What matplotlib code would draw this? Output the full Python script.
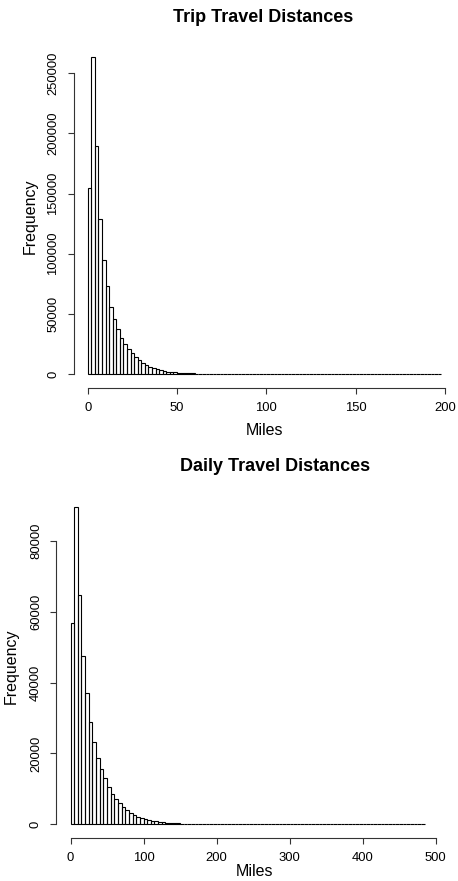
import numpy as np
import matplotlib
matplotlib.use("Agg")
import matplotlib.pyplot as plt

plt.rcParams['font.family'] = ['Liberation Sans', 'DejaVu Sans']

# Trip distances: 2-mile bins, counts
trip_binw = 2
trip_counts = [155000, 263500, 189800, 128500, 94700, 72800, 56000, 45400, 37000, 29900,
               24600, 20500, 17200, 14100, 11400, 9200, 7600, 6200, 5000, 4000,
               3200, 2500, 2000, 1600, 1300, 1050, 850, 700, 570, 470,
               390, 320, 270, 220, 185, 155, 130, 110, 92, 78,
               66, 56, 48, 41, 35, 30, 26, 22, 19, 16,
               14, 12, 11, 9, 8, 7, 6, 6, 5, 4,
               4, 3, 3, 3, 2, 2, 2, 2, 1, 1,
               1, 1, 1, 1, 1, 0, 1, 0, 1, 0,
               0, 1, 0, 0, 0, 1, 0, 0, 0, 0,
               0, 0, 1, 0, 0, 0, 0, 0, 1]
trip_xticks = [0, 50, 100, 150, 200]
trip_yticks = [0, 50000, 100000, 150000, 200000, 250000]

# Daily distances: 5-mile bins
daily_binw = 5
daily_counts = [56800, 89600, 64700, 47400, 37000, 28900, 23300, 18800, 15700, 13000,
                10450, 8560, 7100, 5930, 4900, 4100, 3300, 2700, 2200, 1850,
                1500, 1250, 1000, 800, 650, 530, 430, 350, 290, 240,
                200, 165, 135, 112, 92, 76, 62, 51, 42, 35,
                29, 24, 20, 17, 14, 12, 10, 9, 8, 7,
                6, 5, 5, 4, 4, 3, 3, 3, 2, 2,
                2, 1, 2, 1, 1, 1, 0, 1, 0, 1,
                0, 0, 1, 0, 0, 0, 1, 0, 0, 0,
                0, 1, 0, 0, 0, 0, 0, 0, 1, 0,
                0, 0, 0, 0, 0, 0, 1]
daily_xticks = [0, 100, 200, 300, 400, 500]
daily_yticks = [0, 20000, 40000, 60000, 80000]

W, H = 458, 881
fig = plt.figure(figsize=(W / 100, H / 100), dpi=100)


def px_axes(left, top, right, bottom):
    return fig.add_axes([left / W, 1 - bottom / H, (right - left) / W, (bottom - top) / H])


def rhist(ax, counts, binw, xticks, yticks, xlim, ylim):
    edges = np.arange(len(counts)) * binw
    ax.bar(edges, counts, width=binw, align='edge', fill=False,
           edgecolor='black', linewidth=0.8)
    ax.set_xlim(*xlim)
    ax.set_ylim(*ylim)
    for s in ['top', 'right']:
        ax.spines[s].set_visible(False)
    ax.spines['left'].set_bounds(yticks[0], yticks[-1])
    ax.spines['bottom'].set_bounds(xticks[0], xticks[-1])
    for s in ['left', 'bottom']:
        ax.spines[s].set_linewidth(0.8)
        ax.spines[s].set_color('#333333')
    ax.set_xticks(xticks)
    ax.set_yticks(yticks)
    ax.set_yticklabels([str(v) for v in yticks])
    ax.tick_params(axis='both', length=4.1, width=0.8, color='#333333', labelsize=9.4)
    ax.tick_params(axis='x', pad=6)
    ax.tick_params(axis='y', labelrotation=90, pad=6)
    for lab in ax.get_yticklabels():
        lab.set_verticalalignment('center')
    ax.patch.set_visible(False)


ax1 = px_axes(73.5, 44, 455.6, 387.7)
rhist(ax1, trip_counts, trip_binw, trip_xticks, trip_yticks, (-7.95, 205.9), (-11390, 274360))
ax1.set_xlabel("Miles", fontsize=11.5, labelpad=6.5)
ax1.set_ylabel("Frequency", fontsize=11.5, labelpad=7)

ax2 = px_axes(56, 494.3, 452.6, 838)
rhist(ax2, daily_counts, daily_binw, daily_xticks, daily_yticks, (-19.9, 523.4), (-3869, 93186))
ax2.set_xlabel("Miles", fontsize=11.5, labelpad=0)
ax2.set_ylabel("Frequency", fontsize=11.5, labelpad=8)

fig.text(263.3 / W, 1 - 17 / H, "Trip Travel Distances", ha='center', va='center',
         fontsize=13, fontweight='bold')
fig.text(275 / W, 1 - 466 / H, "Daily Travel Distances", ha='center', va='center',
         fontsize=13, fontweight='bold')

fig.savefig("out.png", dpi=100)
